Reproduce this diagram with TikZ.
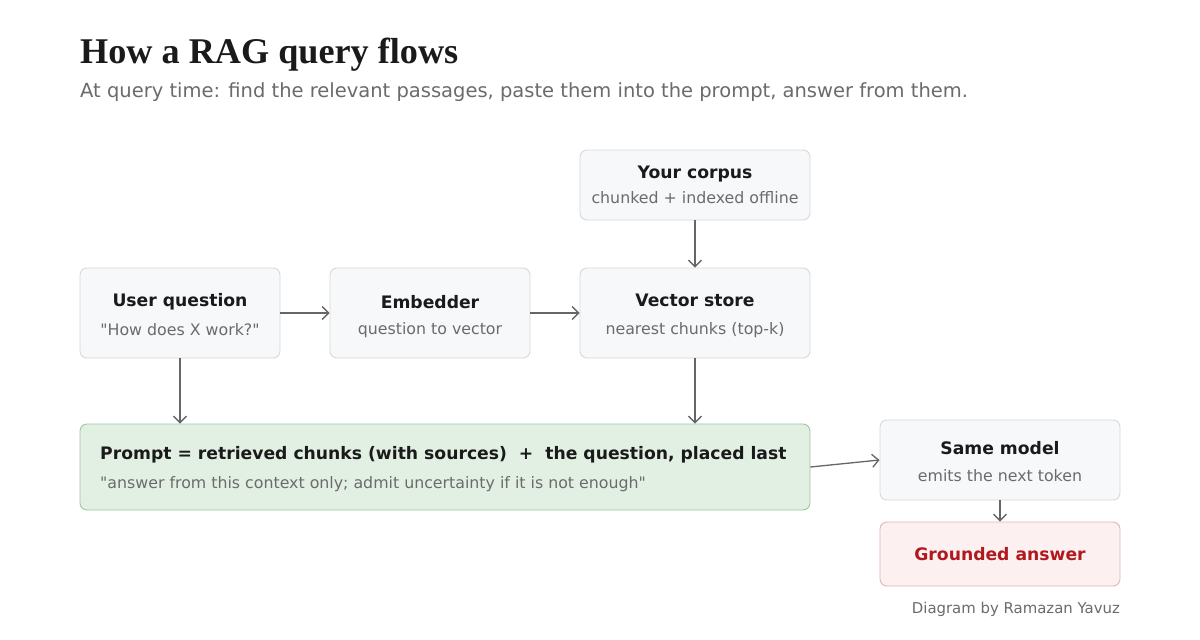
\documentclass[tikz,border=0pt]{standalone}
\usepackage{fontspec}
\setmainfont{DejaVu Sans}
\newfontfamily\titlefont{Liberation Serif}
\usetikzlibrary{arrows.meta}
\definecolor{boxfill}{HTML}{F7F8F9}
\definecolor{boxline}{HTML}{D6D8DB}
\definecolor{greenfill}{HTML}{E2F0E3}
\definecolor{greenline}{HTML}{9CC79F}
\definecolor{redfill}{HTML}{FDF0F0}
\definecolor{redline}{HTML}{E6B5B5}
\definecolor{redtext}{HTML}{B0191E}
\definecolor{headtext}{HTML}{1A1A1A}
\definecolor{subtext}{HTML}{6B6B6B}
\definecolor{arrowcol}{HTML}{666666}
\tikzset{
  boxbase/.style={draw=boxline, fill=boxfill, rounded corners=7pt, line width=0.9pt, inner sep=0pt},
  greenbox/.style={draw=greenline, fill=greenfill, rounded corners=7pt, line width=0.9pt, inner sep=0pt},
  redbox/.style={draw=redline, fill=redfill, rounded corners=7pt, line width=0.9pt, inner sep=0pt},
  headlbl/.style={font=\fontsize{17.2}{22}\selectfont\bfseries, text=headtext, inner sep=0pt},
  sublbl/.style={font=\fontsize{15.8}{20}\selectfont, text=subtext, inner sep=0pt},
  flow/.style={draw=arrowcol, line width=1.3pt, -{Straight Barb[length=6.5pt,width=13pt,line width=1.3pt]}},
}
\begin{document}
\begin{tikzpicture}[x=1pt,y=-1pt]
\useasboundingbox (0,0) rectangle (1200,640);
\fill[white] (0,0) rectangle (1200,640);
% title
\node[anchor=base west, inner sep=0pt, font=\titlefont\fontsize{36.2}{40}\selectfont\bfseries, text=headtext] (title) at (80,63) {How a RAG query flows};
\node[anchor=base west, inner sep=0pt, font=\fontsize{19.5}{24}\selectfont, text=subtext] (subtitle) at (80,97) {At query time: find the relevant passages, paste them into the prompt, answer from them.};
% boxes
\node[boxbase, minimum width=230pt, minimum height=70pt] (corpus) at (695,185) {};
\node[boxbase, minimum width=200pt, minimum height=90pt] (user) at (180,313) {};
\node[boxbase, minimum width=200pt, minimum height=90pt] (embed) at (430,313) {};
\node[boxbase, minimum width=230pt, minimum height=90pt] (store) at (695,313) {};
\node[greenbox, minimum width=730pt, minimum height=86pt] (prompt) at (445,467) {};
\node[boxbase, minimum width=240pt, minimum height=80pt] (model) at (1000,460) {};
\node[redbox, minimum width=240pt, minimum height=64pt] (answer) at (1000,554) {};
% labels
\node[headlbl] (corpusH) at (695,174) {Your corpus};
\node[sublbl] (corpusS) at (695,198) {chunked + indexed offline};
\node[headlbl] (userH) at (180,302) {User question};
\node[sublbl] (userS) at (180,330) {\textquotedbl How does X work?\textquotedbl};
\node[headlbl] (embedH) at (430,302) {Embedder};
\node[sublbl] (embedS) at (430,330) {question to vector};
\node[headlbl] (storeH) at (695,300) {Vector store};
\node[sublbl] (storeS) at (695,330) {nearest chunks (top-k)};
\node[headlbl, anchor=west] (promptH) at (100,455) {Prompt = retrieved chunks (with sources) \ + \ the question, placed last};
\node[sublbl, anchor=west] (promptS) at (100,484) {\textquotedbl answer from this context only; admit uncertainty if it is not enough\textquotedbl};
\node[headlbl] (modelH) at (1000,448) {Same model};
\node[sublbl] (modelS) at (1000,476) {emits the next token};
\node[headlbl, text=redtext] (answerH) at (1000,554) {Grounded answer};
\node[anchor=base east, inner sep=0pt, font=\fontsize{14.9}{18}\selectfont, text=subtext] (credit) at (1120,613) {Diagram by Ramazan Yavuz};
% connectors
\draw[flow] (user.east) -- (embed.west);
\draw[flow] (embed.east) -- (store.west);
\draw[flow] (corpus.south) -- (store.north);
\draw[flow] (user.south) -- (user.south |- prompt.north);
\draw[flow] (store.south) -- (store.south |- prompt.north);
\draw[flow] (prompt.east) -- (model.west);
\draw[flow] (model.south) -- (answer.north);
\end{tikzpicture}
\end{document}
